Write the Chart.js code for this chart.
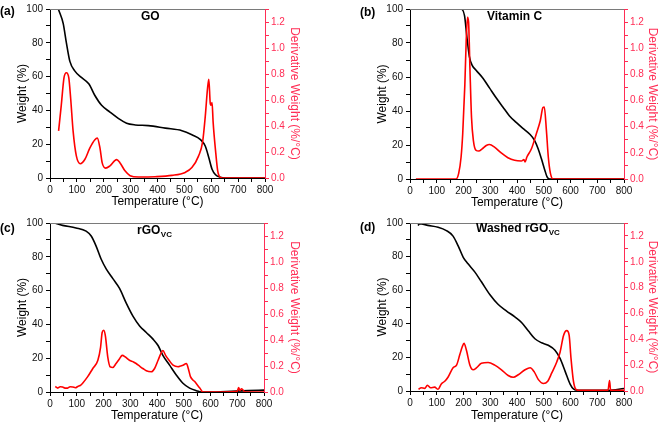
<!DOCTYPE html>
<html>
<head>
<meta charset="utf-8">
<script src="https://cdn.jsdelivr.net/npm/chart.js@4.4.1/dist/chart.umd.min.js"></script>
<style>
  html, body { margin: 0; padding: 0; background: #fff; }
  #wrap { position: relative; width: 664px; height: 428px; }
  .panel { position: absolute; width: 332px; height: 214px; }
</style>
</head>
<body>
<div id="wrap">
  <div class="panel" style="left:0;top:0"><canvas id="chartA"></canvas></div>
  <div class="panel" style="left:332px;top:0"><canvas id="chartB"></canvas></div>
  <div class="panel" style="left:0;top:214px"><canvas id="chartC"></canvas></div>
  <div class="panel" style="left:332px;top:214px"><canvas id="chartD"></canvas></div>
</div>
<script>
// ---- data ----
// (a) GO
const goTempW  = [32, 49, 61, 74, 92, 117, 145, 167, 192, 223, 254, 285, 317, 366, 429, 491, 528, 560, 578, 591, 603, 616, 634, 653, 700, 800];
const goWeight = [99.6, 91.5, 80, 69, 63.4, 59.5, 55.6, 48.8, 43, 39, 35.3, 32.4, 31.4, 31, 29.5, 28, 25.6, 22.7, 18.8, 12, 5.2, 1.9, 0.4, 0, 0, 0];
const goTempD  = [32, 42, 52, 61, 70, 77, 86, 98, 113, 130, 148, 167, 176, 186, 194, 207, 223, 248, 260, 279, 298, 329, 391, 454, 503, 528, 553, 568, 578, 586, 591, 596, 599, 603, 607, 616, 624, 634, 647, 700, 800];
const goDeriv  = [0.363, 0.56, 0.77, 0.81, 0.77, 0.61, 0.36, 0.17, 0.11, 0.144, 0.23, 0.295, 0.307, 0.23, 0.118, 0.076, 0.093, 0.141, 0.118, 0.055, 0.018, 0.008, 0.01, 0.02, 0.043, 0.08, 0.17, 0.28, 0.48, 0.685, 0.76, 0.58, 0.56, 0.58, 0.43, 0.21, 0.055, 0.005, 0, 0, 0];

// (b) Vitamin C
const vcTempW  = [27, 100, 191, 204, 212, 222, 232, 247, 272, 297, 322, 347, 372, 397, 422, 447, 466, 479, 491, 504, 512, 522, 600, 800];
const vcWeight = [100, 100, 100, 96, 84.5, 72, 67, 64, 59.4, 53.6, 47.8, 42.4, 37.1, 33.3, 29.8, 26.5, 22.6, 17.8, 12, 5.2, 1.4, 0, 0, 0];
const vcTempD  = [22, 100, 172, 182, 191, 197, 205, 210, 215, 219, 224, 230, 237, 247, 257, 270, 285, 297, 316, 341, 366, 391, 416, 426, 430, 437, 454, 472, 487, 497, 502, 510, 517, 525, 535, 600, 800];
const vcDeriv  = [0, 0, 0, 0.043, 0.168, 0.344, 0.72, 1.05, 1.237, 1.2, 0.85, 0.47, 0.294, 0.219, 0.214, 0.231, 0.256, 0.264, 0.244, 0.199, 0.163, 0.143, 0.138, 0.148, 0.13, 0.168, 0.231, 0.344, 0.445, 0.546, 0.55, 0.37, 0.168, 0.043, 0, 0, 0];

// (c) rGOvc
const rgTempW  = [16, 47, 97, 135, 154, 172, 191, 210, 235, 260, 285, 310, 335, 360, 385, 404, 422, 447, 472, 497, 522, 547, 566, 620, 680, 742, 800];
const rgWeight = [100, 98.6, 97.1, 95.2, 92.3, 86.5, 78.7, 72.9, 67.1, 61.3, 52.6, 44.9, 39.1, 35.2, 31.3, 27.5, 21.7, 15.9, 10.1, 5.2, 2.3, 0.8, 0, 0, 0.4, 0.8, 1.1];
const rgTempD  = [20, 24, 29, 38, 47, 56, 66, 75, 85, 95, 104, 113, 122, 141, 160, 179, 189, 195, 201, 207, 216, 225, 235, 247, 260, 270, 282, 297, 312, 322, 335, 347, 360, 379, 391, 404, 414, 422, 432, 445, 460, 479, 488, 497, 510, 517, 525, 541, 560, 572, 650, 700, 705, 710, 716, 730, 800];
const rgDeriv  = [0.043, 0.035, 0.03, 0.04, 0.038, 0.03, 0.03, 0.04, 0.038, 0.033, 0.043, 0.05, 0.068, 0.118, 0.181, 0.244, 0.344, 0.458, 0.475, 0.432, 0.269, 0.194, 0.189, 0.219, 0.256, 0.282, 0.269, 0.244, 0.231, 0.219, 0.199, 0.181, 0.163, 0.156, 0.181, 0.244, 0.294, 0.319, 0.282, 0.244, 0.206, 0.194, 0.2, 0.206, 0.219, 0.181, 0.118, 0.08, 0.03, 0, 0, 0.005, 0.035, 0.01, 0.025, 0, 0];

// (d) Washed rGOvc
const wsTempW  = [30, 36, 67, 105, 136, 161, 180, 199, 217, 242, 267, 299, 330, 361, 392, 417, 442, 467, 492, 517, 542, 561, 580, 599, 611, 630, 742, 800];
const wsWeight = [98.5, 99.6, 98.6, 97.5, 95.5, 92.2, 86.4, 79.6, 75.7, 70.9, 65, 57.3, 51.5, 47.6, 44.1, 40.8, 35.9, 31.1, 28.7, 27.2, 24.3, 19.4, 11.7, 3.9, 1.2, 0.4, 0.4, 1.5];
const wsTempD  = [32, 42, 55, 65, 77, 92, 105, 117, 130, 142, 161, 174, 186, 195, 202, 211, 224, 236, 249, 267, 292, 317, 342, 367, 386, 405, 430, 449, 465, 480, 499, 515, 530, 549, 561, 574, 586, 595, 602, 611, 620, 630, 740, 746, 750, 800];
const wsDeriv  = [0.013, 0.025, 0.02, 0.045, 0.025, 0.03, 0.013, 0.055, 0.075, 0.106, 0.18, 0.2, 0.28, 0.34, 0.37, 0.315, 0.2, 0.164, 0.18, 0.215, 0.22, 0.2, 0.164, 0.12, 0.106, 0.126, 0.164, 0.18, 0.146, 0.088, 0.058, 0.076, 0.14, 0.227, 0.3, 0.43, 0.467, 0.43, 0.25, 0.076, 0.013, 0.005, 0.005, 0.08, 0.005, 0.005];

// tick / axis ranges
const tempRange = [0, 800];
const weightRange = [0, 100];
const derivRange = [0, 1.3];

Chart.defaults.font.family = '"Liberation Sans", Arial, sans-serif';

const RED = 'rgb(255,0,0)';
const AXIS_RED = 'rgb(255,45,85)';

function pts(xs, ys) {
  return xs.map((x, i) => ({ x: x, y: ys[i] }));
}

// top frame line + panel letter + in-plot title (with subscript)
const panelText = {
  id: 'panelText',
  afterDraw(chart, args, opts) {
    const ctx = chart.ctx;
    const a = chart.chartArea;
    ctx.save();
    ctx.strokeStyle = '#7a7a7a';
    ctx.lineWidth = 1;
    ctx.beginPath();
    ctx.moveTo(a.left, a.top + 0.5);
    ctx.lineTo(a.right, a.top + 0.5);
    ctx.stroke();
    ctx.fillStyle = '#000';
    ctx.textBaseline = 'middle';
    ctx.textAlign = 'left';
    ctx.font = 'bold 12px "Liberation Sans", Arial, sans-serif';
    ctx.fillText(opts.label, opts.lx, opts.ly);
    ctx.fillText(opts.title, opts.tx, opts.ty);
    if (opts.sub) {
      const w = ctx.measureText(opts.title).width;
      ctx.font = 'bold 8px "Liberation Sans", Arial, sans-serif';
      ctx.fillText(opts.sub, opts.tx + w + 0.5, opts.ty + 4);
    }
    ctx.restore();
  }
};

function makeConfig(weightPts, derivPts, lay, text) {
  return {
    type: 'line',
    data: {
      datasets: [
        { data: derivPts, yAxisID: 'y1', borderColor: RED, borderWidth: 1.6, pointRadius: 0, cubicInterpolationMode: 'monotone' },
        { data: weightPts, yAxisID: 'y', borderColor: '#000', borderWidth: 1.6, pointRadius: 0, cubicInterpolationMode: 'monotone' }
      ]
    },
    options: {
      responsive: true,
      maintainAspectRatio: false,
      animation: false,
      layout: { padding: { left: lay.pl, right: lay.pr, top: lay.pt, bottom: lay.pb } },
      plugins: {
        legend: { display: false },
        tooltip: { enabled: false },
        panelText: text
      },
      scales: {
        x: {
          type: 'linear', min: tempRange[0], max: tempRange[1],
          afterFit: s => { s.height = lay.xh; },
          ticks: {
            stepSize: 50, autoSkip: false, maxRotation: 0, color: '#111',
            font: { size: 10 }, padding: 2,
            callback: v => (v % 100 === 0 ? v : '')
          },
          grid: { drawOnChartArea: false, tickLength: 4, color: '#000' },
          border: { color: '#000', width: 1 },
          title: { display: true, text: 'Temperature (°C)', color: '#000', font: { size: 12 } }
        },
        y: {
          position: 'left', min: weightRange[0], max: weightRange[1],
          afterFit: s => { s.width = lay.yw; },
          ticks: {
            stepSize: 10, autoSkip: false, color: '#111', font: { size: 10 },
            callback: v => (v % 20 === 0 ? v : '')
          },
          grid: { drawOnChartArea: false, tickLength: 4, color: '#000' },
          border: { color: '#000', width: 1 },
          title: { display: true, text: 'Weight (%)', color: '#000', font: { size: 12 } }
        },
        y1: {
          position: 'right', min: derivRange[0], max: derivRange[1],
          afterFit: s => { s.width = lay.y1w; },
          ticks: {
            stepSize: 0.1, autoSkip: false, color: AXIS_RED, font: { size: 10 }, padding: 2,
            callback: v => (Math.round(v * 10) % 2 === 0 ? v.toFixed(1) : '')
          },
          grid: { drawOnChartArea: false, tickLength: 4, color: AXIS_RED },
          border: { color: AXIS_RED, width: 1 },
          title: { display: true, text: 'Derivative Weight (%/°C)', color: AXIS_RED, font: { size: 12 } }
        }
      }
    },
    plugins: [panelText]
  };
}

new Chart(document.getElementById('chartA'), makeConfig(
  pts(goTempW, goWeight), pts(goTempD, goDeriv),
  { pl: 11, pr: 26, pt: 6, pb: 1, yw: 39, y1w: 41, xh: 35 },
  { label: '(a)', lx: 0, ly: 12, title: 'GO', tx: 141, ty: 17 }
));

new Chart(document.getElementById('chartB'), makeConfig(
  pts(vcTempW, vcWeight), pts(vcTempD, vcDeriv),
  { pl: 39, pr: 0, pt: 7, pb: 0, yw: 39, y1w: 40, xh: 35 },
  { label: '(b)', lx: 28, ly: 13, title: 'Vitamin C', tx: 155, ty: 17 }
));

new Chart(document.getElementById('chartC'), makeConfig(
  pts(rgTempW, rgWeight), pts(rgTempD, rgDeriv),
  { pl: 11, pr: 26, pt: 7, pb: 1, yw: 39, y1w: 42, xh: 35 },
  { label: '(c)', lx: 0, ly: 15, title: 'rGO', sub: 'VC', tx: 137, ty: 17 }
));

new Chart(document.getElementById('chartD'), makeConfig(
  pts(wsTempW, wsWeight), pts(wsTempD, wsDeriv),
  { pl: 39, pr: 0, pt: 6, pb: 1, yw: 39, y1w: 40, xh: 36 },
  { label: '(d)', lx: 28, ly: 14, title: 'Washed rGO', sub: 'VC', tx: 144, ty: 15 }
));
</script>
</body>
</html>
